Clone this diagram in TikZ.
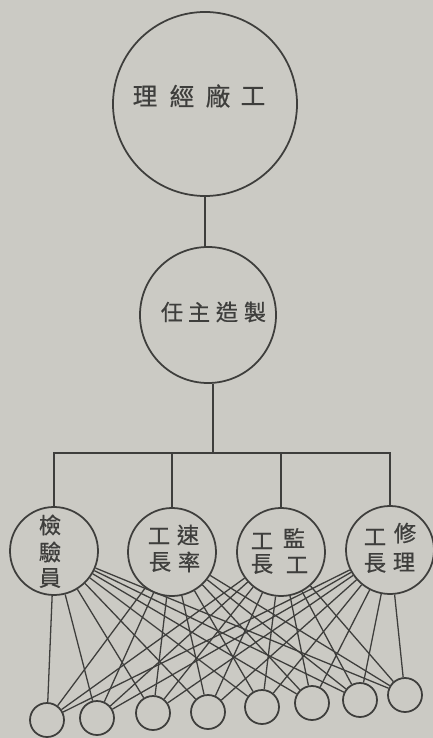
\documentclass[tikz,border=0pt]{standalone}
\usepackage{fontspec}
\newfontfamily\cjk[FakeBold=0.6]{Noto Sans CJK TC}
\definecolor{paper}{RGB}{203,202,196}
\definecolor{ink}{RGB}{62,62,60}
\begin{document}
\begin{tikzpicture}[x=0.03cm,y=-0.03cm,
  circ/.style={circle,draw=ink,line width=1.5pt,inner sep=0pt},
  boss/.style={circ,minimum size=5.52cm},
  chief/.style={circ,minimum size=4.08cm},
  foreman/.style={circ,minimum size=2.64cm},
  worker/.style={circ,minimum size=1.02cm},
  ch/.style={inner sep=0pt,text=ink,font=\cjk\fontsize{19pt}{19pt}\selectfont},
  bigch/.style={ch,font=\cjk\fontsize{21pt}{21pt}\selectfont},
  wire/.style={draw=ink,line width=1.5pt},
  fan/.style={draw=ink,line width=1.1pt}]
\fill[paper] (0,0) rectangle (433,738);
\useasboundingbox (0,0) rectangle (433,738);
% top
\node[boss] (top) at (205,104) {};
\node[bigch] (t1) at (145,96) {理};
\node[bigch] (t2) at (182,96) {經};
\node[bigch] (t3) at (218,96) {廠};
\node[bigch] (t4) at (253,96) {工};
% second
\node[chief] (mid) at (208,315) {};
\node[ch] (m1) at (172,312) {任};
\node[ch] (m2) at (199,312) {主};
\node[ch] (m3) at (227,312) {造};
\node[ch] (m4) at (255,312) {製};
% foremen
\node[foreman] (f1) at (54,551) {};
\node[foreman] (f2) at (172,552) {};
\node[foreman] (f3) at (281,552) {};
\node[foreman] (f4) at (390,550) {};
\node[ch] (a1) at (50,525) {檢};
\node[ch] (a2) at (50,552) {驗};
\node[ch] (a3) at (50,578) {員};
\node[ch] (b1) at (159,536) {工};
\node[ch] (b2) at (188,535) {速};
\node[ch] (b3) at (160,562) {長};
\node[ch] (b4) at (189,562) {率};
\node[ch] (c1) at (262,541) {工};
\node[ch] (c2) at (294,538) {監};
\node[ch] (c3) at (262,564) {長};
\node[ch] (c4) at (297,565) {工};
\node[ch] (d1) at (375,537) {工};
\node[ch] (d2) at (405,533) {修};
\node[ch] (d3) at (375,563) {長};
\node[ch] (d4) at (404,562) {理};
% workers
\node[worker] (w1) at (47,720) {};
\node[worker] (w2) at (97,718) {};
\node[worker] (w3) at (153,713) {};
\node[worker] (w4) at (208,712) {};
\node[worker] (w5) at (262,707) {};
\node[worker] (w6) at (312,703) {};
\node[worker] (w7) at (360,700) {};
\node[worker] (w8) at (405,695) {};
% tree
\coordinate (bus) at (213,453);
\draw[wire] (top.south) -- (top.south |- mid.north);
\draw[wire] (mid.south -| bus) -- (bus);
\draw[wire] (f1.north) |- (bus);
\draw[wire] (f4.north) |- (bus);
\draw[wire] (f2.north) -- (f2.north |- bus);
\draw[wire] (f3.north) -- (f3.north |- bus);
% fan
\foreach \f in {f1,f2,f3,f4}
  \foreach \w in {w1,w2,w3,w4,w5,w6,w7,w8}
    \draw[fan] (\f) -- (\w);
\end{tikzpicture}
\end{document}
